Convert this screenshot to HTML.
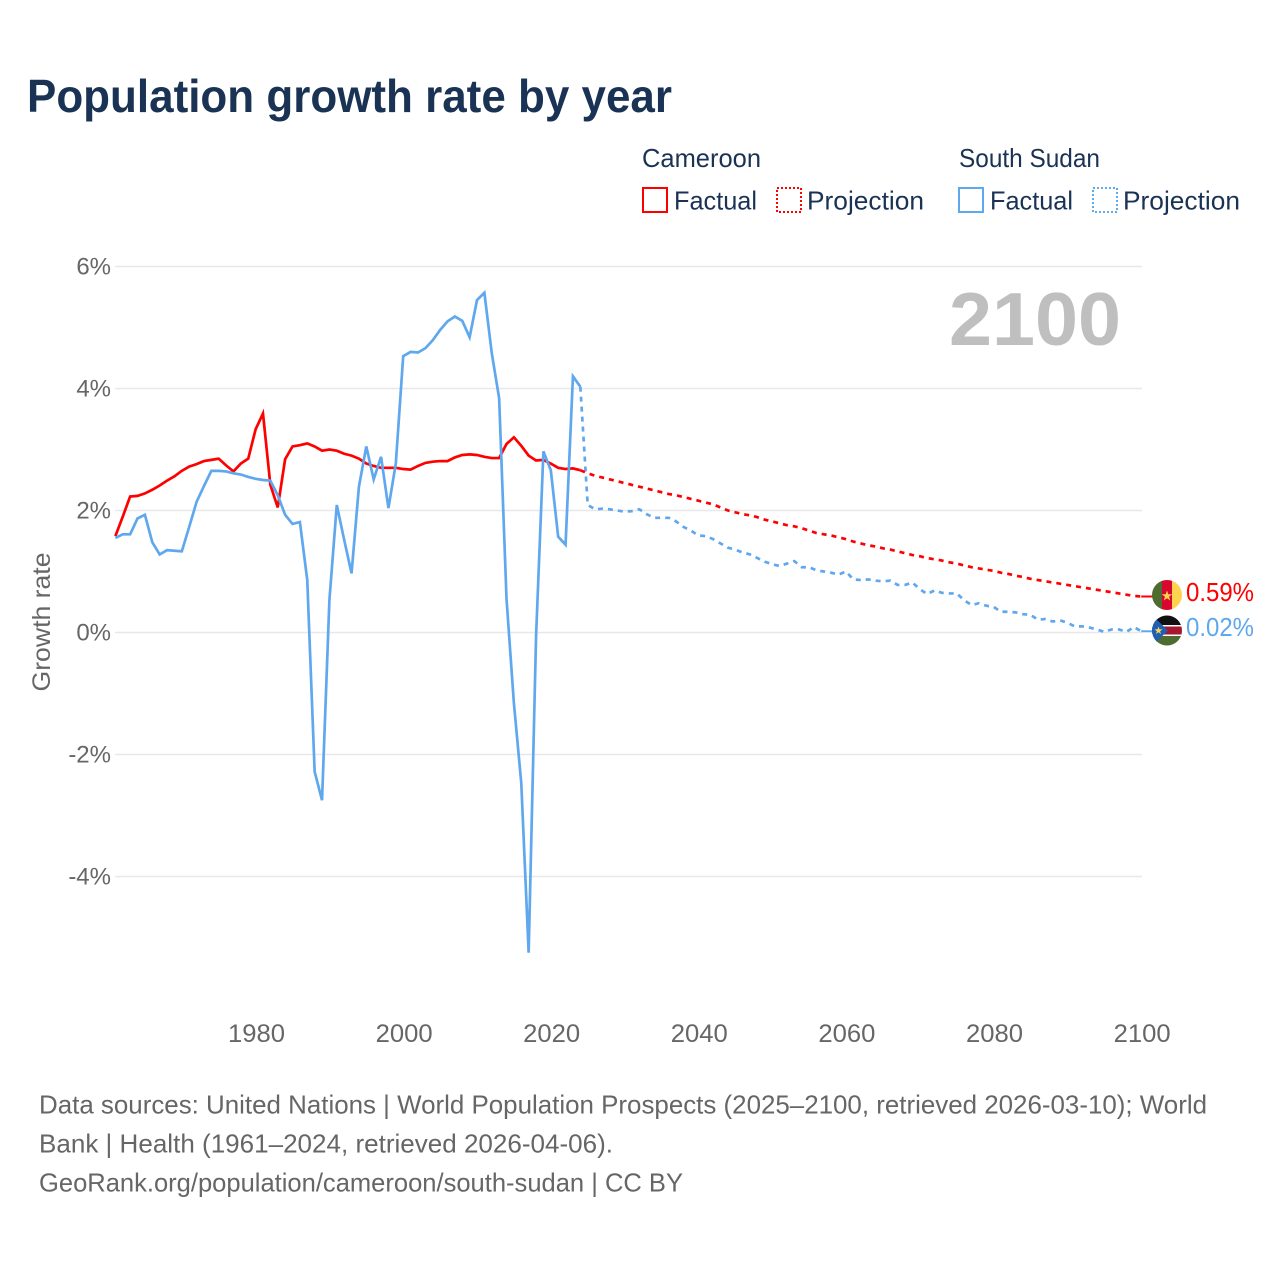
<!DOCTYPE html>
<html lang="en">
<head>
<meta charset="utf-8">
<title>Population growth rate by year</title>
<style>
html,body{margin:0;padding:0;background:#fff;width:1280px;height:1280px;overflow:hidden}
svg{display:block;font-family:"Liberation Sans",sans-serif}
</style>
</head>
<body>
<svg id="chart" xmlns="http://www.w3.org/2000/svg" width="1280" height="1280" viewBox="0 0 1280 1280">
  <defs>
    <clipPath id="clip-cm"><circle cx="1167" cy="595" r="15"/></clipPath>
    <clipPath id="clip-ss"><circle cx="1167" cy="630.5" r="15"/></clipPath>
  </defs>
  <rect width="1280" height="1280" fill="#fff"/>
  <text x="27" y="112" font-size="46" font-weight="700" fill="#1a3354" textLength="645" lengthAdjust="spacingAndGlyphs">Population growth rate by year</text>

  <g font-size="26" fill="#1a3354">
    <text x="642" y="167" textLength="119" lengthAdjust="spacingAndGlyphs">Cameroon</text>
    <text x="959" y="167" textLength="141" lengthAdjust="spacingAndGlyphs">South Sudan</text>
    <rect x="643" y="188" width="24" height="24" fill="none" stroke="#ff0000" stroke-width="2"/>
    <text x="674" y="209.5" textLength="83" lengthAdjust="spacingAndGlyphs">Factual</text>
    <rect x="777" y="188" width="24" height="24" fill="none" stroke="#ff0000" stroke-width="2" stroke-dasharray="2 2"/>
    <text x="807" y="209.5" textLength="117" lengthAdjust="spacingAndGlyphs">Projection</text>
    <rect x="959" y="188" width="24" height="24" fill="none" stroke="#5fa8ee" stroke-width="2"/>
    <text x="990" y="209.5" textLength="83" lengthAdjust="spacingAndGlyphs">Factual</text>
    <rect x="1093" y="188" width="24" height="24" fill="none" stroke="#5fa8ee" stroke-width="2" stroke-dasharray="2 2"/>
    <text x="1123" y="209.5" textLength="117" lengthAdjust="spacingAndGlyphs">Projection</text>
  </g>

  <g id="grid"></g>
  <g id="yticks"></g>
  <g id="xticks"></g>
  <text transform="translate(50,622) rotate(-90)" text-anchor="middle" font-size="25" fill="#666666" textLength="139" lengthAdjust="spacingAndGlyphs">Growth rate</text>
  <text x="949" y="345" font-size="75" font-weight="700" fill="#bfbfbf" textLength="172" lengthAdjust="spacingAndGlyphs">2100</text>
  <g id="series"></g>

  <g clip-path="url(#clip-cm)">
    <rect x="1152" y="580" width="10" height="30" fill="#4e6b30"/>
    <rect x="1162" y="580" width="10" height="30" fill="#d9072f"/>
    <rect x="1172" y="580" width="10" height="30" fill="#fdd34f"/>
    <polygon points="1167,590.5 1168.3,594.2 1172.2,594.3 1169.1,596.7 1170.2,600.5 1167,598.2 1163.8,600.5 1164.9,596.7 1161.8,594.3 1165.7,594.2" fill="#fdd34f"/>
  </g>
  <g clip-path="url(#clip-ss)">
    <rect x="1152" y="615" width="30" height="10" fill="#111111"/>
    <rect x="1152" y="625" width="30" height="1.5" fill="#ffffff"/>
    <rect x="1152" y="626.5" width="30" height="8" fill="#a5182f"/>
    <rect x="1152" y="634.5" width="30" height="1.5" fill="#ffffff"/>
    <rect x="1152" y="636" width="30" height="10" fill="#4e6b30"/>
    <polygon points="1152,615 1152,646 1168,630.5" fill="#1f5fb4"/>
    <polygon points="1158.5,626.5 1159.5,629.3 1162.5,629.4 1160.1,631.2 1161,634 1158.5,632.3 1156,634 1156.9,631.2 1154.5,629.4 1157.5,629.3" fill="#fdd34f"/>
  </g>
  <text x="1186" y="601" font-size="25.5" fill="#ff0000" textLength="68" lengthAdjust="spacingAndGlyphs">0.59%</text>
  <text x="1186" y="636" font-size="25.5" fill="#5fa8ee" textLength="68" lengthAdjust="spacingAndGlyphs">0.02%</text>

  <g font-size="26" fill="#666666">
    <text x="39" y="1113.5" textLength="1168" lengthAdjust="spacingAndGlyphs">Data sources: United Nations | World Population Prospects (2025–2100, retrieved 2026-03-10); World</text>
    <text x="39" y="1152.5" textLength="574" lengthAdjust="spacingAndGlyphs">Bank | Health (1961–2024, retrieved 2026-04-06).</text>
    <text x="39" y="1191.5" textLength="644" lengthAdjust="spacingAndGlyphs">GeoRank.org/population/cameroon/south-sudan | CC BY</text>
  </g>
</svg>
<script>
const firstYear = 1961;
const projectionFirstYear = 2024;
const yTickValues = [6, 4, 2, 0, -2, -4];
const xTickYears = [1980, 2000, 2020, 2040, 2060, 2080, 2100];

// 1961–2024
const cameroonFactual = [1.58,1.90,2.23,2.24,2.28,2.34,2.41,2.49,2.56,2.65,2.72,2.76,2.81,2.83,2.85,2.74,2.64,2.77,2.85,3.33,3.59,2.42,2.05,2.84,3.05,3.07,3.10,3.05,2.98,3.00,2.98,2.93,2.90,2.85,2.77,2.73,2.70,2.70,2.70,2.68,2.67,2.73,2.78,2.80,2.81,2.81,2.87,2.91,2.92,2.91,2.88,2.86,2.86,3.09,3.20,3.06,2.90,2.82,2.83,2.77,2.70,2.68,2.69,2.66];
// 2024–2100
const cameroonProjection = [2.66,2.61,2.57,2.54,2.51,2.48,2.45,2.42,2.39,2.36,2.33,2.30,2.27,2.25,2.22,2.19,2.16,2.13,2.10,2.05,2.00,1.97,1.94,1.92,1.89,1.85,1.82,1.79,1.76,1.74,1.71,1.67,1.63,1.61,1.59,1.56,1.53,1.49,1.46,1.43,1.41,1.38,1.36,1.33,1.30,1.27,1.25,1.22,1.20,1.18,1.15,1.13,1.10,1.07,1.05,1.03,1.01,0.98,0.96,0.93,0.91,0.88,0.86,0.84,0.82,0.80,0.78,0.76,0.74,0.72,0.70,0.68,0.66,0.64,0.62,0.60,0.59];
// 1961–2024
const southSudanFactual = [1.55,1.61,1.61,1.87,1.93,1.48,1.28,1.35,1.34,1.33,1.73,2.14,2.40,2.65,2.65,2.64,2.61,2.59,2.55,2.52,2.50,2.49,2.25,1.93,1.78,1.81,0.86,-2.28,-2.75,0.53,2.09,1.52,0.97,2.39,3.05,2.51,2.88,2.04,2.77,4.53,4.60,4.59,4.66,4.79,4.96,5.10,5.18,5.11,4.84,5.45,5.57,4.58,3.84,0.55,-1.16,-2.47,-5.25,-0.07,2.97,2.66,1.57,1.44,4.20,4.03];
// 2024–2100
const southSudanProjection = [4.03,2.09,2.02,2.03,2.02,2.00,1.98,1.99,2.02,1.94,1.88,1.88,1.88,1.82,1.73,1.67,1.59,1.58,1.53,1.46,1.39,1.36,1.31,1.28,1.22,1.16,1.12,1.09,1.13,1.17,1.07,1.07,1.02,1.00,0.98,0.95,1.00,0.87,0.86,0.87,0.85,0.84,0.85,0.78,0.78,0.82,0.71,0.63,0.69,0.65,0.64,0.64,0.53,0.45,0.48,0.44,0.42,0.34,0.34,0.33,0.30,0.29,0.21,0.22,0.18,0.20,0.16,0.10,0.10,0.08,0.05,0.01,0.05,0.05,0.01,0.09,0.02];

const cameroonColor = '#ff0000';
const southSudanColor = '#5fa8ee';
const NS = 'http://www.w3.org/2000/svg';

function xScale(year) { return 255.6 + (year - 1980) * 7.38; }
function yScale(value) { return 632.5 - value * 61; }

function toPoints(values, startYear) {
  return values.map(function (v, i) {
    return xScale(startYear + i).toFixed(2) + ',' + yScale(v).toFixed(2);
  }).join(' ');
}

const gridGroup = document.getElementById('grid');
const yTickGroup = document.getElementById('yticks');
const xTickGroup = document.getElementById('xticks');
const seriesGroup = document.getElementById('series');

yTickValues.forEach(function (v) {
  const line = document.createElementNS(NS, 'line');
  
  
  line.setAttribute('x1', 115);
  line.setAttribute('x2', 1142);
  line.setAttribute('y1', yScale(v));
  line.setAttribute('y2', yScale(v));
  line.setAttribute('stroke', '#e8e8e8');
  line.setAttribute('stroke-width', 1.5);
  gridGroup.appendChild(line);

  const label = document.createElementNS(NS, 'text');
  
  
  label.setAttribute('x', 111);
  label.setAttribute('y', yScale(v) + 8);
  label.setAttribute('text-anchor', 'end');
  label.setAttribute('font-size', 24);
  label.setAttribute('fill', '#666666');
  label.textContent = v + '%';
  yTickGroup.appendChild(label);
});

xTickYears.forEach(function (year) {
  const label = document.createElementNS(NS, 'text');
  
  
  label.setAttribute('x', xScale(year) + 0.9);
  label.setAttribute('y', 1042);
  label.setAttribute('text-anchor', 'middle');
  label.setAttribute('font-size', 25);
  label.setAttribute('textLength', 57);
  label.setAttribute('lengthAdjust', 'spacingAndGlyphs');
  label.setAttribute('fill', '#666666');
  label.textContent = year;
  xTickGroup.appendChild(label);
});

function drawLine(values, startYear, color, dashed, name) {
  const line = document.createElementNS(NS, 'polyline');
  
  
  line.setAttribute('points', toPoints(values, startYear));
  line.setAttribute('fill', 'none');
  line.setAttribute('stroke', color);
  line.setAttribute('stroke-width', 2.7);
  line.setAttribute('stroke-linejoin', 'miter');
  if (dashed) { line.setAttribute('stroke-dasharray', '5 5'); }
  seriesGroup.appendChild(line);
}

function drawConnector(value, color, name) {
  const line = document.createElementNS(NS, 'line');
  
  
  line.setAttribute('x1', xScale(2100));
  line.setAttribute('x2', 1153);
  line.setAttribute('y1', yScale(value));
  line.setAttribute('y2', yScale(value));
  line.setAttribute('stroke', color);
  line.setAttribute('stroke-width', 2);
  seriesGroup.appendChild(line);
}

drawLine(southSudanProjection, projectionFirstYear, southSudanColor, true, 'south-sudan-projection-line');
drawLine(cameroonProjection, projectionFirstYear, cameroonColor, true, 'cameroon-projection-line');
drawLine(cameroonFactual, firstYear, cameroonColor, false, 'cameroon-factual-line');
drawLine(southSudanFactual, firstYear, southSudanColor, false, 'south-sudan-factual-line');
drawConnector(cameroonProjection[cameroonProjection.length - 1], cameroonColor, 'cameroon-flag-connector');
drawConnector(southSudanProjection[southSudanProjection.length - 1], southSudanColor, 'south-sudan-flag-connector');
</script>
</body>
</html>
